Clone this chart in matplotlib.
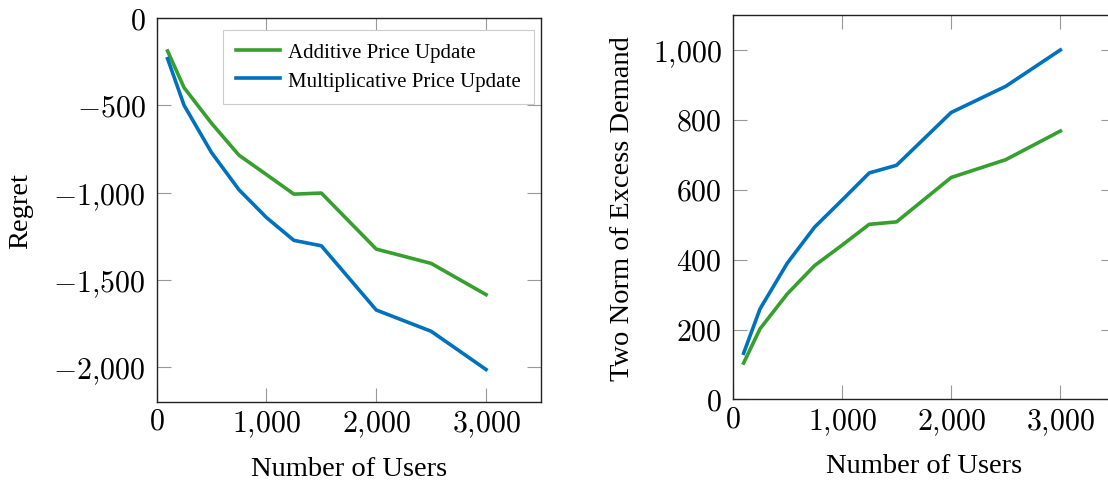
import matplotlib
matplotlib.use("Agg")
import matplotlib.pyplot as plt
from matplotlib.ticker import FuncFormatter, FixedLocator

plt.rcParams["mathtext.fontset"] = "cm"
plt.rcParams["font.family"] = ["Liberation Serif", "DejaVu Serif"]

# Number of users in each experiment
users = [100, 250, 500, 750, 1000, 1250, 1500, 2000, 2500, 3000]

# Regret
regret_additive = [-189, -399, -603, -786, -897, -1009, -1003, -1324, -1406, -1585]
regret_multiplicative = [-233, -500, -771, -984, -1143, -1274, -1305, -1673, -1795, -2014]

# Two norm of excess demand
demand_additive = [104, 202, 302, 383, 441, 501, 508, 635, 686, 768]
demand_multiplicative = [132, 259, 390, 493, 570, 648, 670, 821, 896, 1000]

series_labels = ["Additive Price Update", "Multiplicative Price Update"]
green = "#35a02d"
blue = "#0072bd"

x_ticks = [0, 1000, 2000, 3000]
regret_ticks = [0, -500, -1000, -1500, -2000]
demand_ticks = [0, 200, 400, 600, 800, 1000]

W, H = 1108, 481
fig = plt.figure(figsize=(W / 100, H / 100), dpi=100)


def box(x0, x1, ytop, ybot):
    return [x0 / W, 1 - ybot / H, (x1 - x0) / W, (ybot - ytop) / H]


ax1 = fig.add_axes(box(156.6, 541.0, 19.0, 403.0))
ax2 = fig.add_axes(box(732.7, 1115.0, 16.0, 400.4))


def fmt(v, _pos=None):
    v = int(round(v))
    s = f"{abs(v):,}".replace(",", "{,}")
    return f"${'-' if v < 0 else ''}{s}$"


for ax in (ax1, ax2):
    for sp in ax.spines.values():
        sp.set_linewidth(1.0)
        sp.set_color("#222222")
    ax.tick_params(direction="in", length=10, width=0.8, color="#999999",
                   top=True, right=True, labelsize=21.5, labelcolor="black")
    ax.tick_params(axis="y", pad=8)
    ax.tick_params(axis="x", pad=5)
    ax.xaxis.set_major_locator(FixedLocator(x_ticks))
    ax.xaxis.set_major_formatter(FuncFormatter(fmt))
    ax.yaxis.set_major_formatter(FuncFormatter(fmt))
    ax.set_xlim(0, 3500)
    ax.set_xlabel("Number of Users", fontsize=20.5, labelpad=12)

lw = 2.6
ax1.plot(users, regret_additive, color=green, lw=lw, label=series_labels[0])
ax1.plot(users, regret_multiplicative, color=blue, lw=lw, label=series_labels[1])
ax1.set_ylim(-2200, 0)
ax1.yaxis.set_major_locator(FixedLocator(regret_ticks))
ax1.set_ylabel("Regret", fontsize=20.5)
ax1.yaxis.set_label_coords(-0.322, 0.5)

leg = ax1.legend(loc="upper right", bbox_to_anchor=(0.981, 0.969), borderaxespad=0,
                 fontsize=15, frameon=True, fancybox=False, framealpha=1,
                 edgecolor="#cccccc", handlelength=2.1, handletextpad=0.4,
                 borderpad=0.62, labelspacing=0.42)
leg.get_frame().set_linewidth(0.8)

ax2.plot(users, demand_additive, color=green, lw=lw)
ax2.plot(users, demand_multiplicative, color=blue, lw=lw)
ax2.set_ylim(0, 1100)
ax2.yaxis.set_major_locator(FixedLocator(demand_ticks))
ax2.set_ylabel("Two Norm of Excess Demand", fontsize=20.5)
ax2.yaxis.set_label_coords(-0.256, 0.5)

fig.savefig("out.png", dpi=100)
